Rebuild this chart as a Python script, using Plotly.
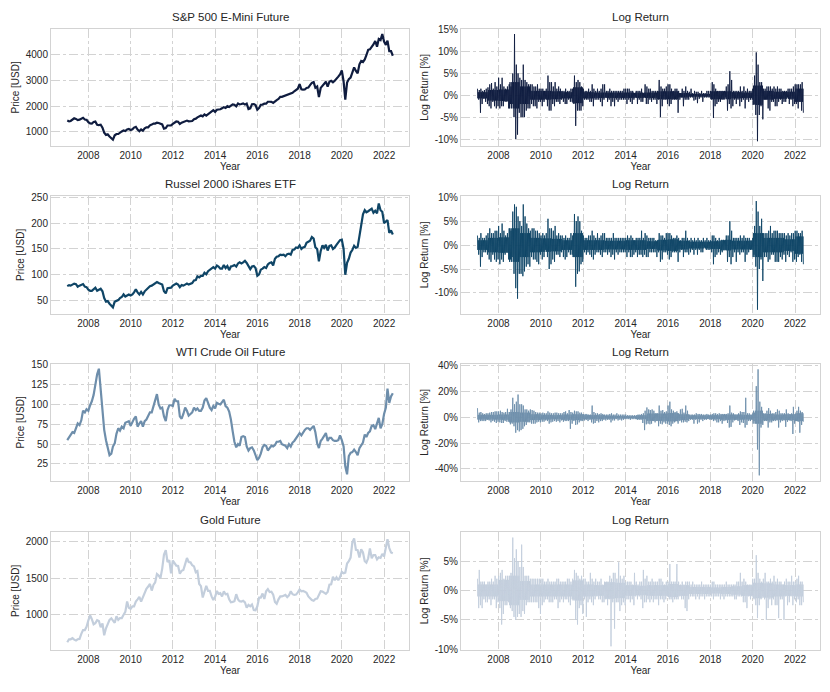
import pandas as pd
import plotly.graph_objects as go
from plotly.subplots import make_subplots

# monthly price points, Jan 2007 .. Jun 2022
sp500_price = [
    1440, 1410, 1425, 1490, 1530, 1505, 1460, 1475, 1530, 1550, 1480, 1470,
    1380, 1330, 1325, 1385, 1400, 1280, 1265, 1280, 1165, 970, 880, 905,
    825, 735, 700, 870, 920, 920, 985, 1020, 1055, 1035, 1095, 1115,
    1075, 1105, 1170, 1200, 1090, 1030, 1100, 1050, 1140, 1180, 1180, 1255,
    1285, 1325, 1325, 1360, 1345, 1320, 1290, 1130, 1150, 1250, 1245, 1255,
    1310, 1365, 1405, 1395, 1310, 1360, 1380, 1405, 1440, 1410, 1415, 1425,
    1495, 1515, 1565, 1595, 1640, 1605, 1680, 1630, 1680, 1755, 1805, 1845,
    1780, 1860, 1870, 1880, 1920, 1960, 1930, 2000, 1970, 2015, 2065, 2055,
    1990, 2100, 2065, 2080, 2105, 2060, 2100, 1890, 1915, 2075, 2080, 2040,
    1860, 1930, 2055, 2060, 2095, 2095, 2170, 2170, 2165, 2125, 2195, 2235,
    2275, 2360, 2360, 2385, 2410, 2420, 2470, 2470, 2515, 2575, 2645, 2675,
    2850, 2650, 2640, 2645, 2705, 2720, 2815, 2900, 2930, 2710, 2760, 2350,
    2705, 2785, 2835, 2945, 2750, 2945, 2980, 2925, 2980, 3040, 3140, 3230,
    3380, 2955, 2250, 2910, 3045, 3100, 3270, 3500, 3360, 3270, 3620, 3750,
    3710, 3810, 3970, 4180, 4200, 4290, 4390, 4520, 4300, 4600, 4560, 4790,
    4500, 4370, 4530, 4130, 4130, 3950,
]
russell_price = [
    78, 80, 79, 81, 83, 82, 77, 79, 80, 82, 77, 76,
    71, 69, 69, 72, 75, 69, 71, 73, 68, 55, 48, 49,
    44, 39, 37, 48, 49, 51, 55, 57, 62, 58, 60, 62,
    60, 62, 66, 72, 66, 62, 67, 62, 68, 71, 74, 78,
    79, 82, 84, 86, 84, 83, 81, 68, 64, 74, 74, 75,
    79, 81, 83, 81, 76, 80, 79, 81, 83, 81, 82, 84,
    89, 90, 97, 95, 98, 98, 104, 101, 107, 110, 113, 115,
    112, 118, 116, 112, 112, 119, 113, 117, 109, 116, 117, 119,
    116, 122, 124, 122, 124, 127, 123, 116, 111, 116, 117, 113,
    98, 101, 110, 112, 115, 113, 120, 123, 124, 118, 131, 135,
    136, 139, 138, 139, 136, 140, 141, 139, 148, 149, 153, 152,
    157, 150, 153, 154, 162, 164, 166, 173, 170, 153, 150, 126,
    146, 157, 152, 158, 147, 156, 157, 150, 153, 158, 162, 167,
    168, 150, 100, 123, 131, 143, 148, 156, 152, 154, 175, 196,
    217, 225, 221, 223, 225, 228, 220, 224, 219, 238, 225, 222,
    200, 203, 206, 181, 186, 178,
]
wti_price = [
    55, 59, 62, 65, 64, 70, 76, 74, 80, 92, 90, 94,
    92, 99, 104, 112, 125, 138, 145, 118, 100, 68, 55, 44,
    36, 38, 47, 51, 63, 70, 67, 72, 70, 77, 78, 79,
    73, 79, 82, 85, 72, 76, 79, 72, 79, 81, 86, 90,
    90, 97, 106, 113, 100, 95, 96, 85, 79, 93, 99, 99,
    98, 107, 104, 104, 85, 82, 88, 96, 92, 86, 88, 90,
    96, 93, 95, 92, 92, 96, 105, 108, 102, 96, 93, 98,
    95, 102, 101, 100, 103, 106, 98, 96, 91, 81, 66, 53,
    46, 50, 48, 59, 60, 59, 47, 42, 45, 46, 42, 37,
    30, 33, 38, 46, 49, 48, 42, 45, 48, 47, 49, 53,
    53, 54, 50, 49, 48, 45, 50, 47, 52, 54, 57, 60,
    64, 61, 65, 68, 70, 70, 68, 70, 73, 65, 51, 45,
    54, 57, 60, 64, 54, 58, 58, 55, 54, 54, 55, 61,
    55, 47, 22, 12, 35, 39, 40, 43, 40, 36, 45, 48,
    52, 62, 59, 64, 66, 73, 74, 69, 75, 83, 70, 75,
    88, 96, 120, 102, 110, 114,
]
gold_price = [
    625, 665, 665, 680, 660, 650, 665, 670, 740, 790, 790, 835,
    925, 990, 940, 870, 885, 925, 915, 830, 880, 720, 815, 870,
    930, 950, 920, 890, 980, 930, 955, 955, 1000, 1040, 1180, 1095,
    1080, 1115, 1115, 1180, 1210, 1245, 1180, 1245, 1305, 1355, 1385, 1420,
    1330, 1410, 1440, 1555, 1535, 1500, 1630, 1820, 1880, 1720, 1745, 1565,
    1740, 1710, 1670, 1665, 1560, 1600, 1610, 1690, 1775, 1720, 1715, 1675,
    1660, 1580, 1595, 1420, 1390, 1235, 1310, 1395, 1325, 1325, 1250, 1200,
    1245, 1325, 1285, 1295, 1250, 1320, 1280, 1285, 1210, 1170, 1175, 1185,
    1280, 1210, 1185, 1180, 1190, 1170, 1095, 1135, 1115, 1140, 1065, 1060,
    1115, 1235, 1235, 1290, 1215, 1320, 1350, 1310, 1315, 1275, 1175, 1150,
    1210, 1250, 1250, 1265, 1270, 1240, 1265, 1320, 1280, 1270, 1275, 1305,
    1345, 1320, 1325, 1315, 1300, 1250, 1225, 1200, 1190, 1215, 1220, 1280,
    1320, 1315, 1295, 1285, 1310, 1410, 1415, 1520, 1470, 1510, 1470, 1515,
    1585, 1565, 1575, 1700, 1730, 1780, 1985, 2040, 1885, 1880, 1780, 1895,
    1850, 1730, 1710, 1770, 1905, 1770, 1815, 1815, 1755, 1785, 1775, 1830,
    1795, 1900, 2030, 1910, 1850, 1840,
]

# monthly highest / lowest daily log return [%], Jan 2007 .. May 2022
sp500_ret_hi = [
    1.5, 1.2, 1.5, 1.0, 1.2, 1.5, 1.8, 2.5, 2.8, 1.5, 3.0, 2.0,
    4.0, 2.5, 4.0, 2.0, 1.5, 2.0, 2.5, 2.0, 5.0, 14.0, 7.0, 5.0,
    4.0, 3.5, 7.0, 3.5, 3.0, 2.5, 2.5, 2.5, 2.0, 2.0, 2.5, 1.5,
    1.5, 1.5, 1.0, 1.5, 4.5, 3.0, 3.0, 2.0, 3.0, 1.5, 2.0, 1.5,
    1.0, 1.0, 1.5, 1.0, 1.0, 1.5, 1.5, 4.5, 3.0, 3.5, 3.0, 2.0,
    1.5, 1.0, 1.0, 1.5, 1.0, 2.5, 1.5, 1.0, 1.5, 1.0, 1.5, 2.5,
    2.5, 1.0, 1.0, 1.5, 1.0, 1.0, 1.0, 1.0, 1.0, 1.0, 1.0, 1.5,
    1.5, 1.5, 1.5, 1.0, 1.0, 0.5, 1.0, 1.0, 1.0, 1.5, 0.5, 2.5,
    2.0, 1.5, 1.5, 1.0, 1.0, 1.0, 1.0, 3.5, 2.0, 1.5, 1.5, 2.0,
    2.5, 2.5, 1.5, 1.0, 1.5, 1.5, 1.0, 0.5, 1.5, 1.0, 2.0, 1.0,
    0.8, 1.5, 0.5, 1.0, 0.8, 0.8, 0.5, 1.0, 0.5, 0.5, 1.0, 1.0,
    1.0, 3.0, 2.5, 1.5, 1.0, 1.0, 1.0, 1.0, 1.0, 2.0, 2.5, 5.5,
    3.5, 1.0, 1.0, 1.0, 1.0, 2.0, 1.0, 2.0, 1.0, 1.5, 1.0, 1.0,
    1.5, 4.5, 9.8, 7.0, 3.0, 3.0, 1.5, 1.5, 2.0, 2.0, 2.0, 1.5,
    2.0, 1.5, 2.0, 1.5, 1.5, 1.0, 1.0, 1.0, 1.5, 1.5, 1.5, 2.0,
    2.5, 2.5, 2.5, 2.5, 3.0,
]
sp500_ret_lo = [
    -1.0, -4.0, -2.0, -0.8, -1.5, -2.0, -2.5, -3.0, -1.5, -2.5, -3.0, -2.5,
    -3.0, -2.5, -2.5, -1.5, -1.5, -3.0, -2.0, -2.0, -5.0, -10.0, -9.0, -4.0,
    -5.0, -5.0, -5.0, -3.5, -3.0, -3.0, -2.0, -2.5, -2.5, -3.0, -1.5, -1.5,
    -2.5, -1.5, -0.8, -2.5, -3.5, -3.5, -2.0, -2.5, -1.5, -1.5, -2.0, -1.0,
    -1.5, -2.0, -2.0, -1.0, -1.5, -1.5, -2.0, -7.0, -3.5, -3.5, -3.5, -2.5,
    -1.0, -1.0, -1.0, -1.5, -1.5, -2.5, -1.0, -1.0, -1.0, -1.5, -2.5, -1.0,
    -0.5, -1.5, -1.0, -2.5, -1.5, -2.5, -1.0, -1.5, -1.0, -1.0, -1.0, -1.0,
    -2.0, -1.0, -1.5, -2.0, -1.0, -0.5, -2.0, -1.0, -1.5, -1.5, -0.5, -2.0,
    -2.0, -1.0, -1.5, -1.0, -1.0, -2.0, -1.0, -5.0, -2.5, -1.0, -1.0, -2.0,
    -2.5, -2.0, -1.0, -1.0, -1.0, -4.0, -1.0, -0.5, -2.5, -1.0, -1.0, -1.0,
    -0.5, -0.5, -1.2, -1.0, -1.8, -0.8, -0.5, -1.5, -0.5, -0.5, -0.5, -0.5,
    -1.0, -5.2, -2.5, -2.0, -1.5, -1.5, -1.0, -1.0, -0.5, -3.5, -2.0, -3.0,
    -2.5, -1.0, -2.0, -1.0, -2.5, -1.5, -1.0, -3.0, -1.0, -1.5, -1.0, -1.0,
    -2.0, -4.5, -10.5, -4.5, -2.5, -5.5, -1.0, -1.0, -3.0, -3.5, -1.5, -1.5,
    -2.5, -2.5, -1.5, -1.0, -2.0, -1.5, -1.5, -0.5, -2.0, -1.0, -2.5, -2.0,
    -2.0, -3.0, -1.5, -3.5, -4.0,
]
russell_ret_hi = [
    2.0, 1.5, 2.5, 1.5, 1.5, 2.0, 2.5, 3.5, 2.5, 2.5, 3.0, 3.0,
    4.0, 2.5, 4.5, 3.0, 2.0, 2.5, 3.5, 3.0, 7.0, 8.5, 8.0, 6.0,
    5.0, 4.0, 8.5, 6.0, 4.5, 3.5, 3.0, 3.5, 3.5, 3.0, 3.0, 2.5,
    2.0, 2.5, 2.0, 2.5, 5.5, 3.5, 3.5, 3.0, 4.0, 2.0, 2.5, 2.0,
    2.0, 1.5, 2.0, 1.5, 1.5, 2.5, 2.0, 6.5, 5.0, 6.0, 5.0, 3.0,
    2.0, 1.5, 1.5, 2.0, 2.0, 3.0, 2.0, 1.5, 2.5, 1.5, 2.0, 2.5,
    2.5, 1.5, 1.5, 1.5, 1.5, 2.5, 1.5, 1.5, 1.5, 1.5, 1.5, 1.5,
    1.5, 2.0, 1.5, 2.0, 1.5, 1.0, 1.5, 1.5, 1.5, 3.0, 1.5, 2.5,
    2.0, 1.5, 1.5, 1.5, 1.5, 1.0, 1.0, 2.5, 2.0, 2.0, 1.5, 2.5,
    2.5, 2.5, 2.0, 1.5, 1.5, 2.0, 1.5, 1.0, 1.5, 1.5, 3.0, 1.5,
    1.0, 1.5, 1.0, 1.5, 1.0, 1.5, 1.0, 1.0, 1.5, 1.0, 1.5, 1.0,
    1.0, 2.0, 2.0, 1.5, 1.0, 1.5, 1.0, 1.0, 1.0, 2.0, 2.0, 5.0,
    3.0, 1.5, 1.5, 1.5, 1.5, 2.0, 1.5, 2.0, 1.5, 1.5, 1.5, 1.0,
    1.5, 4.0, 9.2, 7.0, 4.0, 5.5, 2.5, 2.5, 2.5, 3.0, 4.0, 2.5,
    3.0, 3.0, 3.0, 2.5, 2.5, 2.5, 2.5, 2.0, 2.5, 2.0, 2.5, 2.5,
    3.0, 3.0, 2.5, 2.5, 3.0,
]
russell_ret_lo = [
    -2.0, -4.5, -2.5, -1.5, -1.5, -2.0, -3.0, -3.5, -2.0, -3.0, -3.5, -3.0,
    -4.0, -3.0, -3.5, -2.0, -1.5, -3.0, -3.0, -2.5, -6.0, -9.0, -11.2, -6.0,
    -6.0, -6.5, -5.5, -4.5, -4.0, -4.5, -2.5, -3.0, -3.0, -3.5, -4.0, -2.0,
    -3.0, -2.5, -1.0, -2.5, -5.0, -4.0, -3.0, -3.5, -2.0, -2.0, -2.5, -1.5,
    -2.5, -3.0, -2.5, -1.5, -2.0, -2.0, -2.5, -8.7, -6.0, -5.5, -4.0, -3.5,
    -1.5, -2.0, -1.5, -2.0, -2.5, -3.0, -2.0, -1.5, -1.5, -2.0, -2.5, -1.5,
    -1.5, -2.0, -1.5, -2.5, -2.0, -3.0, -1.5, -2.0, -1.5, -1.5, -1.5, -1.5,
    -2.5, -1.5, -2.5, -2.5, -2.0, -1.5, -2.5, -2.0, -2.0, -2.5, -2.0, -2.5,
    -2.5, -1.5, -1.5, -1.5, -1.5, -2.5, -1.5, -3.5, -3.0, -1.5, -1.5, -2.0,
    -3.0, -2.5, -1.5, -1.5, -1.5, -3.5, -1.5, -1.0, -2.5, -1.5, -1.5, -2.0,
    -1.5, -1.0, -2.0, -1.0, -2.0, -1.0, -1.5, -1.5, -0.5, -1.0, -1.0, -1.0,
    -1.5, -4.0, -2.5, -2.0, -1.5, -2.0, -1.5, -1.0, -1.0, -3.5, -2.5, -4.0,
    -2.5, -1.5, -3.5, -1.5, -2.0, -1.5, -1.5, -3.5, -2.0, -1.5, -1.0, -1.0,
    -2.0, -4.5, -13.5, -5.0, -3.0, -7.5, -2.5, -2.5, -3.5, -3.0, -2.0, -2.0,
    -3.5, -3.5, -3.5, -2.5, -3.0, -2.0, -3.5, -2.0, -2.5, -1.5, -3.5, -3.0,
    -3.5, -2.5, -2.0, -3.5, -4.0,
]
wti_ret_hi = [
    7.0, 3.5, 4.0, 3.0, 2.5, 3.0, 3.0, 3.5, 4.0, 4.0, 4.5, 4.5,
    4.5, 5.0, 4.0, 3.5, 4.0, 6.5, 4.0, 6.0, 15.0, 10.0, 12.0, 17.5,
    10.0, 10.0, 9.0, 6.0, 6.0, 5.0, 6.0, 5.5, 5.0, 4.0, 3.5, 3.5,
    3.0, 3.5, 3.0, 3.0, 4.5, 3.5, 3.0, 3.0, 3.5, 3.5, 3.0, 3.0,
    3.0, 4.0, 4.5, 3.0, 5.5, 4.0, 3.5, 5.0, 4.5, 4.5, 3.5, 3.5,
    2.5, 2.5, 2.5, 2.0, 2.0, 9.0, 4.0, 3.0, 3.0, 2.5, 3.0, 2.5,
    2.0, 2.0, 2.0, 2.5, 3.0, 2.0, 2.0, 3.0, 2.0, 2.0, 2.0, 2.0,
    2.0, 1.5, 1.5, 1.5, 1.5, 1.5, 1.5, 2.0, 2.0, 2.5, 3.0, 5.0,
    7.5, 6.0, 5.5, 6.0, 5.0, 3.0, 3.0, 9.0, 5.0, 5.5, 4.0, 4.5,
    9.0, 12.0, 6.0, 5.0, 4.0, 4.5, 3.0, 6.0, 6.5, 3.5, 9.0, 5.0,
    2.0, 2.0, 2.0, 2.0, 3.0, 2.5, 2.5, 2.5, 2.0, 2.0, 2.5, 2.0,
    2.0, 2.5, 3.0, 3.0, 2.5, 3.0, 2.5, 2.5, 2.5, 2.5, 3.0, 9.0,
    3.5, 3.0, 2.0, 2.0, 3.0, 4.5, 4.0, 4.0, 15.0, 3.0, 3.0, 2.0,
    3.0, 3.5, 24.0, 37.0, 12.0, 8.0, 3.0, 3.0, 5.0, 7.0, 5.0, 3.0,
    3.0, 4.0, 6.0, 5.0, 3.0, 3.0, 3.0, 6.0, 3.0, 2.5, 3.0, 8.0,
    2.5, 5.0, 8.0, 5.0, 4.0,
]
wti_ret_lo = [
    -4.0, -3.0, -3.0, -3.0, -3.0, -2.0, -2.5, -4.0, -3.0, -3.5, -4.5, -3.5,
    -4.0, -4.5, -4.5, -3.0, -3.5, -3.5, -5.5, -5.0, -7.0, -12.0, -10.0, -11.0,
    -10.0, -9.0, -7.0, -6.0, -4.0, -4.0, -5.0, -5.0, -5.0, -4.0, -3.5, -4.0,
    -3.5, -3.5, -2.5, -3.0, -5.0, -4.0, -3.5, -3.0, -3.5, -3.0, -4.0, -2.5,
    -3.5, -3.0, -3.0, -3.0, -9.0, -5.0, -3.0, -6.0, -5.5, -4.0, -3.0, -3.0,
    -2.5, -2.0, -3.0, -2.0, -4.0, -5.0, -4.5, -3.0, -4.0, -3.0, -3.0, -2.0,
    -2.5, -2.0, -2.0, -4.0, -2.5, -2.5, -1.5, -2.5, -2.0, -2.5, -2.0, -1.5,
    -1.5, -1.5, -2.0, -1.5, -1.5, -1.5, -2.0, -2.0, -2.0, -4.5, -10.0, -5.5,
    -5.0, -5.5, -5.0, -3.0, -4.0, -3.0, -7.0, -5.0, -5.5, -4.0, -5.0, -5.0,
    -6.0, -7.0, -5.0, -4.0, -3.0, -5.0, -3.0, -4.0, -4.0, -3.5, -4.0, -3.0,
    -2.0, -2.0, -5.0, -2.0, -5.0, -4.0, -2.0, -3.0, -2.0, -2.0, -1.5, -2.0,
    -2.0, -3.0, -2.5, -4.0, -4.0, -3.0, -5.0, -3.0, -2.5, -4.5, -8.0, -7.5,
    -4.0, -2.5, -2.0, -3.0, -6.0, -4.0, -4.5, -8.0, -6.0, -3.0, -3.0, -2.0,
    -3.0, -5.0, -25.0, -45.0, -8.0, -6.0, -3.0, -3.0, -8.0, -4.0, -4.0, -3.0,
    -3.0, -2.5, -8.0, -4.0, -3.0, -2.5, -7.5, -3.5, -2.5, -3.0, -13.0, -5.0,
    -3.0, -3.5, -12.0, -6.0, -3.5,
]
gold_ret_hi = [
    2.0, 3.5, 1.5, 1.5, 1.5, 1.0, 1.5, 1.5, 2.0, 1.5, 2.5, 2.0,
    2.5, 3.0, 3.5, 2.0, 2.5, 2.5, 2.5, 3.0, 9.0, 5.5, 7.0, 5.0,
    4.0, 7.8, 4.0, 2.5, 2.5, 2.5, 2.0, 2.0, 2.0, 2.0, 2.0, 2.0,
    2.0, 2.0, 1.5, 1.5, 2.0, 1.5, 1.5, 1.5, 1.5, 2.0, 2.0, 1.5,
    1.5, 1.5, 1.5, 2.0, 2.0, 1.5, 2.0, 3.5, 3.0, 2.5, 2.0, 2.5,
    2.0, 2.0, 1.5, 1.5, 3.0, 2.0, 1.5, 2.0, 1.5, 1.5, 2.0, 1.0,
    1.5, 1.5, 1.5, 2.5, 2.0, 3.0, 3.0, 2.0, 4.8, 2.5, 2.0, 2.5,
    1.5, 1.5, 1.5, 1.5, 1.0, 3.0, 1.5, 1.0, 1.5, 1.5, 3.5, 2.0,
    2.5, 1.5, 1.5, 2.0, 1.5, 1.5, 1.5, 2.0, 2.0, 1.5, 1.0, 1.5,
    1.5, 4.5, 1.5, 1.5, 1.5, 4.5, 1.5, 1.0, 1.5, 1.0, 1.5, 1.5,
    1.5, 1.0, 1.5, 1.0, 1.0, 1.0, 1.0, 1.5, 1.0, 1.0, 1.0, 1.0,
    1.0, 1.5, 1.5, 1.0, 1.0, 1.0, 1.0, 1.0, 1.0, 1.5, 1.0, 1.0,
    1.0, 1.0, 1.0, 1.5, 1.5, 3.0, 1.5, 2.0, 1.5, 1.0, 1.0, 1.0,
    2.0, 2.0, 6.0, 3.0, 2.0, 1.5, 2.0, 3.0, 1.5, 1.5, 2.0, 1.5,
    2.5, 1.5, 2.0, 1.5, 1.5, 1.0, 1.5, 2.0, 1.5, 1.5, 2.5, 1.5,
    1.5, 2.0, 2.5, 1.5, 1.5,
]
gold_ret_lo = [
    -3.0, -2.5, -3.0, -1.5, -2.0, -2.0, -1.5, -2.5, -1.5, -1.5, -3.0, -2.0,
    -3.0, -5.8, -4.0, -2.5, -2.5, -2.0, -3.0, -3.5, -4.5, -5.0, -4.5, -4.0,
    -4.5, -3.5, -4.0, -2.5, -2.0, -2.0, -2.0, -2.0, -2.0, -2.0, -3.0, -4.0,
    -2.5, -2.0, -1.5, -1.5, -2.0, -2.0, -2.0, -1.5, -1.5, -3.0, -2.0, -1.5,
    -2.0, -1.5, -1.5, -2.0, -2.5, -1.5, -1.5, -5.0, -5.8, -3.0, -2.5, -4.0,
    -1.5, -4.5, -2.0, -1.5, -2.0, -2.5, -1.5, -1.0, -1.5, -1.5, -2.0, -2.0,
    -1.5, -2.5, -1.5, -9.5, -2.0, -6.5, -2.0, -2.0, -3.5, -2.5, -2.0, -2.5,
    -1.5, -1.5, -2.0, -1.5, -2.5, -1.0, -1.5, -1.0, -1.5, -3.0, -2.0, -2.0,
    -1.5, -2.0, -1.5, -2.0, -1.5, -1.5, -2.5, -1.5, -1.5, -2.0, -1.5, -1.0,
    -1.5, -1.5, -2.0, -1.5, -1.5, -1.5, -1.0, -1.5, -1.5, -3.0, -3.5, -1.5,
    -1.0, -1.0, -1.0, -1.5, -1.0, -1.5, -1.0, -1.0, -1.5, -1.0, -1.0, -1.0,
    -1.0, -1.5, -1.0, -1.0, -1.0, -1.5, -1.0, -1.5, -1.0, -1.0, -1.0, -1.0,
    -1.0, -1.5, -1.5, -1.0, -1.0, -1.0, -2.0, -2.0, -3.0, -1.0, -1.5, -1.0,
    -1.5, -2.5, -4.7, -2.5, -1.5, -1.0, -1.5, -5.0, -3.0, -1.5, -2.5, -1.5,
    -2.5, -2.5, -4.7, -1.5, -1.5, -5.0, -1.0, -2.5, -2.0, -1.0, -2.5, -1.5,
    -2.0, -1.5, -2.5, -2.5, -2.0,
]

# dense core of the daily returns (+/- %), per half-year 2007H1 .. 2022H1
sp500_core = [0.7, 1.2, 1.3, 3.0, 2.0, 1.0, 1.0, 0.9, 0.7, 1.8, 0.7, 0.6, 0.6, 0.6, 0.6, 0.6,
              0.6, 0.9, 0.9, 0.5, 0.3, 0.3, 0.9, 0.9, 0.7, 0.6, 2.2, 1.0, 0.8, 0.8, 1.5]
russell_core = [1.0, 1.5, 1.6, 3.5, 2.5, 1.5, 1.4, 1.3, 1.0, 2.5, 1.0, 1.0, 0.9, 0.9, 1.0, 1.0,
                0.8, 1.1, 1.2, 0.9, 0.7, 0.7, 0.8, 1.1, 0.9, 0.9, 2.5, 1.5, 1.5, 1.2, 1.8]
wti_core = [1.8, 1.8, 2.0, 4.0, 3.5, 2.2, 1.8, 1.6, 2.0, 2.2, 1.6, 1.6, 1.2, 1.0, 0.8, 1.5,
            2.8, 2.8, 3.2, 2.2, 1.4, 1.4, 1.5, 2.0, 2.0, 1.8, 5.0, 2.5, 2.0, 2.2, 3.0]
gold_core = [1.0, 1.0, 1.8, 2.5, 1.6, 1.0, 1.0, 1.0, 1.0, 1.7, 1.0, 0.9, 1.4, 1.3, 0.9, 0.8,
             0.9, 0.9, 1.1, 0.9, 0.6, 0.6, 0.5, 0.6, 0.7, 0.9, 1.3, 1.2, 1.0, 0.9, 1.0]

price_dates = pd.date_range("2007-01-01", periods=len(sp500_price), freq="MS")
ret_months = pd.date_range("2007-01-01", periods=len(sp500_ret_hi), freq="MS")

# per month: high spike, core band down, core band up, low spike
ret_x = []
for m in ret_months:
    ret_x += [m + pd.Timedelta(days=d) for d in (3, 10, 17, 24)]


def month_path(hi, lo, core):
    out = []
    for i, (h, l) in enumerate(zip(hi, lo)):
        c = core[i // 6]
        out += [h, -c, c, l]
    return out


assets = [
    ("S&P 500 E-Mini Future", sp500_price, sp500_ret_hi, sp500_ret_lo, sp500_core, "#0f1c3f",
     [455, 4995], [1000, 2000, 3000, 4000], [-11.6, 15.2], [-10, -5, 0, 5, 10, 15]),
    ("Russel 2000 iShares ETF", russell_price, russell_ret_hi, russell_ret_lo, russell_core, "#0f4566",
     [25, 252], [50, 100, 150, 200, 250], [-14.3, 10.2], [-10, -5, 0, 5, 10]),
    ("WTI Crude Oil Future", wti_price, wti_ret_hi, wti_ret_lo, wti_core, "#6e8eab",
     [3.5, 151.2], [25, 50, 75, 100, 125, 150], [-49.4, 41.3], [-40, -20, 0, 20, 40]),
    ("Gold Future", gold_price, gold_ret_hi, gold_ret_lo, gold_core, "#c3cedc",
     [525, 2125], [1000, 1500, 2000], [-10.05, 9.9], [-10, -5, 0, 5]),
]

fig = make_subplots(rows=4, cols=2)

# the page adds an 8px body margin, so the figure is drawn 8px smaller
OFF = 8
W, H = 830 - OFF, 692 - OFF
col_px = [(51, 409), (461, 820)]
row_px = [(24, 143), (194, 313), (364, 483), (535, 654)]
font = "Liberation Sans, Arial, sans-serif"
text_col = "#262626"
grid_col = "#d3d3d3"

annotations = []
for r, (name, price, hi, lo, core, color, prng, pticks, rrng, rticks) in enumerate(assets):
    fig.add_trace(go.Scatter(x=price_dates, y=price, mode="lines",
                             line=dict(color=color, width=2.2), showlegend=False),
                  row=r + 1, col=1)
    fig.add_trace(go.Scatter(x=ret_x, y=month_path(hi, lo, core), mode="lines",
                             line=dict(color=color, width=0.9, simplify=False),
                             showlegend=False),
                  row=r + 1, col=2)

    y0, y1 = [v - OFF for v in row_px[r]]
    for c in range(2):
        idx = r * 2 + c + 1
        sfx = "" if idx == 1 else str(idx)
        x0, x1 = [v - OFF for v in col_px[c]]
        common = dict(showline=True, mirror=True, linecolor=grid_col, linewidth=1,
                      showgrid=True, gridcolor=grid_col, griddash="dashdot", gridwidth=1,
                      zeroline=False, ticks="", tickfont=dict(size=10, color=text_col))
        fig.layout["xaxis" + sfx].update(
            domain=[x0 / W, x1 / W], type="date",
            range=["2006-03-26", "2023-03-08"],
            tick0="2008-01-01", dtick="M24", tickformat="%Y",
            title=dict(text="Year", font=dict(size=10, color=text_col), standoff=2),
            **common)
        if c == 0:
            fig.layout["yaxis" + sfx].update(
                domain=[1 - y1 / H, 1 - y0 / H], range=prng, tickvals=pticks,
                title=dict(text="Price [USD]", font=dict(size=10, color=text_col), standoff=4),
                **common)
        else:
            fig.layout["yaxis" + sfx].update(
                domain=[1 - y1 / H, 1 - y0 / H], range=rrng, tickmode="array",
                tickvals=rticks, ticktext=[f"{v}%" for v in rticks],
                title=dict(text="Log Return [%]", font=dict(size=10, color=text_col), standoff=4),
                **common)
        annotations.append(dict(
            text=name if c == 0 else "Log Return",
            x=(x0 + x1) / 2 / W, y=1 - (y0 - 4) / H, xref="paper", yref="paper",
            xanchor="center", yanchor="bottom", showarrow=False,
            font=dict(size=11.5, color=text_col, family=font)))

fig.update_layout(
    width=W, height=H,
    margin=dict(l=0, r=0, t=0, b=0),
    paper_bgcolor="white", plot_bgcolor="white",
    font=dict(family=font, color=text_col),
    annotations=annotations,
)

fig.write_html("out.html")
